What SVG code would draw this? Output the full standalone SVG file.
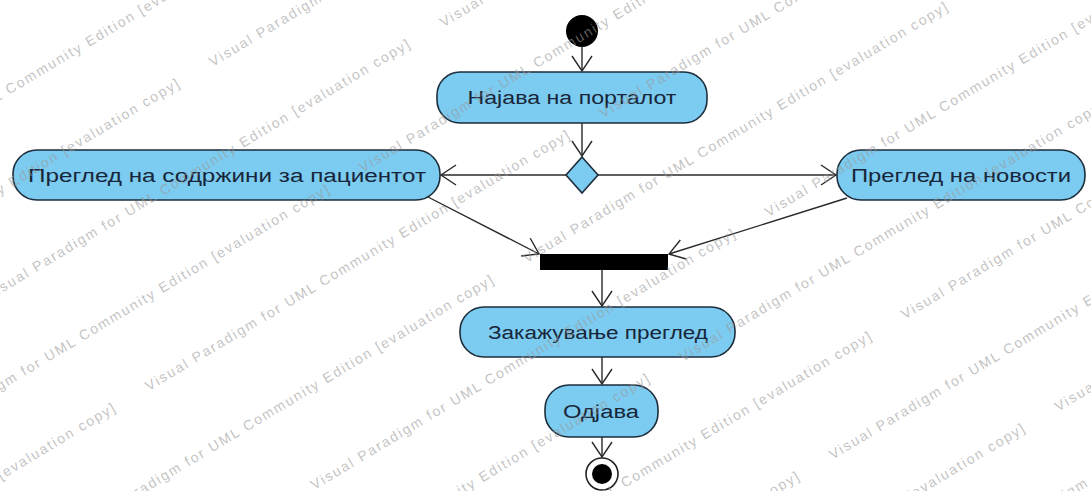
<svg xmlns="http://www.w3.org/2000/svg" xmlns:xlink="http://www.w3.org/1999/xlink" width="1091" height="491" viewBox="0 0 1091 491">
  <style>
    .act rect, .act polygon { fill: #7ccbf0; stroke: #1d2d3b; stroke-width: 1.6; }
    .label { font-family: "Liberation Sans", Arial, sans-serif; font-size: 18px; fill: #17263a; text-anchor: middle; }
    .flow { stroke: #2a2a2a; stroke-width: 1.4; fill: none; marker-end: url(#open); }
    .wm { font-family: "Liberation Sans", Arial, sans-serif; font-size: 14px; fill: #9a9a9a; fill-opacity: 0.6; }
  </style>
  <defs>
    <marker id="open" markerUnits="userSpaceOnUse" viewBox="-17 -12 19 24" refX="0" refY="0" markerWidth="19" markerHeight="24" orient="auto" overflow="visible">
      <path d="M-15,-10 L0,0 L-15,10" fill="none" stroke="#2a2a2a" stroke-width="1.4"/>
    </marker>
    <text id="wm" class="wm" textLength="492" lengthAdjust="spacing">Visual Paradigm for UML Community Edition [evaluation copy]</text>
  </defs>

  <rect width="1091" height="491" fill="#ffffff"/>

  <!-- control flows -->
  <g id="connectors">
    <path class="flow" d="M582,47 L582,71"/>
    <path class="flow" d="M582,123 L582,156"/>
    <path class="flow" d="M566,175 L441,175"/>
    <path class="flow" d="M598,175 L836,175"/>
    <path class="flow" d="M428,197 L539,254"/>
    <path class="flow" d="M847,198 L669,254"/>
    <path class="flow" d="M602,270 L602,306"/>
    <path class="flow" d="M602,357 L602,384"/>
    <path class="flow" d="M602,437 L602,457"/>
  </g>

  <g id="initial">
    <circle cx="582" cy="31" r="16" fill="#000000"/>
  </g>

  <g id="login" class="act">
    <rect x="437" y="72" width="270" height="51" rx="23"/>
    <text class="label" x="572" y="104" textLength="209" lengthAdjust="spacingAndGlyphs">Најава на порталот</text>
  </g>

  <g id="decision" class="act">
    <polygon points="582,157 598,175 582,193 566,175"/>
  </g>

  <g id="patient-content" class="act">
    <rect x="13" y="150" width="427" height="50" rx="24"/>
    <text class="label" x="227" y="182" textLength="398" lengthAdjust="spacingAndGlyphs">Преглед на содржини за пациентот</text>
  </g>

  <g id="news" class="act">
    <rect x="837" y="150" width="248" height="50" rx="24"/>
    <text class="label" x="961" y="182" textLength="220" lengthAdjust="spacingAndGlyphs">Преглед на новости</text>
  </g>

  <g id="join">
    <rect x="540" y="254" width="128" height="16" fill="#000000"/>
  </g>

  <g id="booking" class="act">
    <rect x="460" y="307" width="275" height="50" rx="24"/>
    <text class="label" x="598" y="339" textLength="220" lengthAdjust="spacingAndGlyphs">Закажување преглед</text>
  </g>

  <g id="logout" class="act">
    <rect x="545" y="385" width="113" height="52" rx="24"/>
    <text class="label" x="601" y="418" textLength="76" lengthAdjust="spacingAndGlyphs">Одјава</text>
  </g>

  <g id="final">
    <circle cx="602" cy="474" r="16" fill="#ffffff" stroke="#222222" stroke-width="1.6"/>
    <circle cx="602" cy="474" r="10" fill="#000000"/>
  </g>

  <!-- evaluation watermark, tiled along diagonal rows -->
  <g id="watermark" transform="rotate(-31)">
    <use xlink:href="#wm" x="-244" y="86"/>
    <use xlink:href="#wm" x="148" y="167"/>
    <use xlink:href="#wm" x="-382" y="167"/>
    <use xlink:href="#wm" x="366" y="252"/>
    <use xlink:href="#wm" x="-164" y="252"/>
    <use xlink:href="#wm" x="222" y="335"/>
    <use xlink:href="#wm" x="-308" y="335"/>
    <use xlink:href="#wm" x="456" y="412"/>
    <use xlink:href="#wm" x="-74" y="412"/>
    <use xlink:href="#wm" x="-604" y="412"/>
    <use xlink:href="#wm" x="316" y="497"/>
    <use xlink:href="#wm" x="-214" y="497"/>
    <use xlink:href="#wm" x="17" y="582"/>
    <use xlink:href="#wm" x="547" y="582"/>
    <use xlink:href="#wm" x="399" y="662"/>
    <use xlink:href="#wm" x="-131" y="662"/>
    <use xlink:href="#wm" x="81" y="740"/>
    <use xlink:href="#wm" x="611" y="740"/>
    <use xlink:href="#wm" x="477" y="823"/>
    <use xlink:href="#wm" x="-53" y="823"/>
    <use xlink:href="#wm" x="695" y="898"/>
    <use xlink:href="#wm" x="165" y="898"/>
    <use xlink:href="#wm" x="555" y="977"/>
  </g>
</svg>
